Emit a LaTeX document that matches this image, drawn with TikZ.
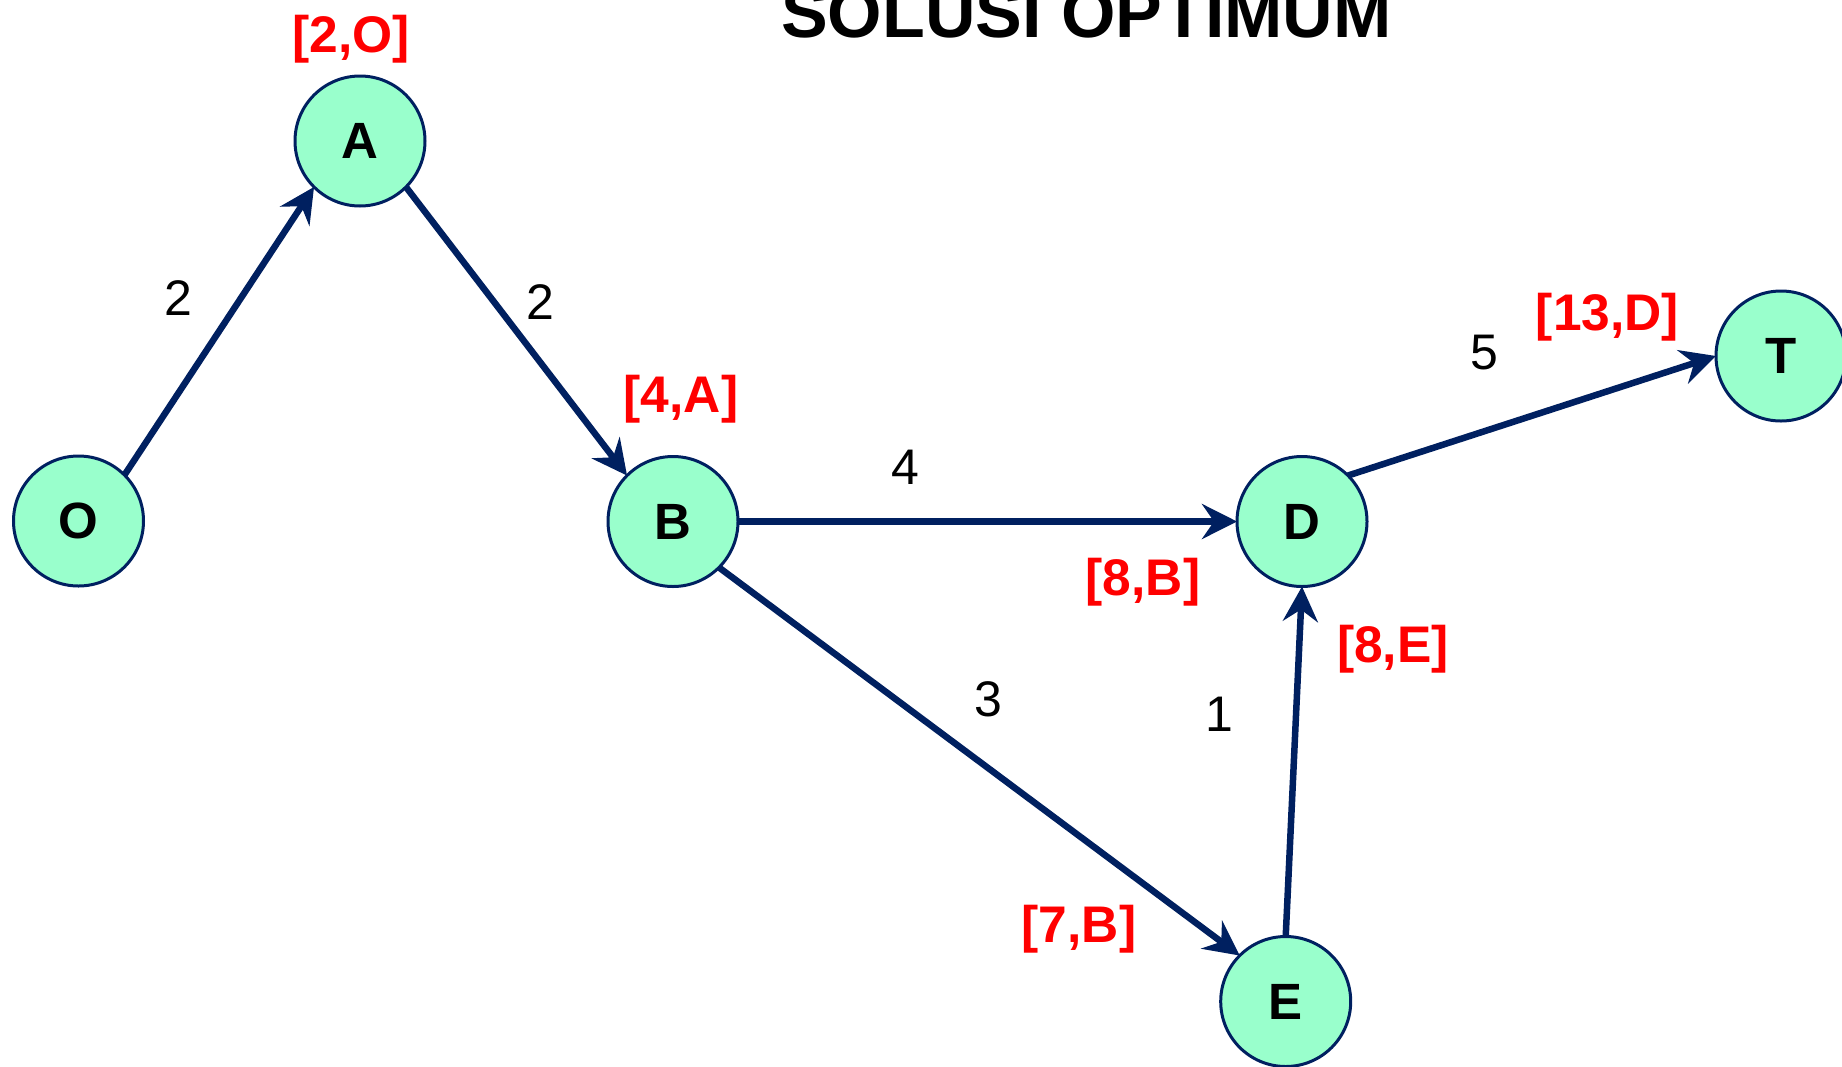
\documentclass[tikz,border=0pt]{standalone}
\usepackage{fontspec}
\setmainfont{Liberation Sans}
\usetikzlibrary{arrows.meta}
\definecolor{navy}{RGB}{0,32,96}
\definecolor{mint}{RGB}{153,255,204}
\definecolor{lblred}{RGB}{255,0,0}
\begin{document}
\begin{tikzpicture}[x=1pt,y=-1pt,
  vertex/.style={circle,draw=navy,fill=mint,line width=3pt,minimum size=130pt,inner sep=0pt,outer sep=0pt,font=\fontsize{51}{60}\selectfont\bfseries},
  cost/.style={text=lblred,font=\fontsize{51.5}{60}\selectfont\bfseries,anchor=base,inner sep=0pt},
  weight/.style={font=\fontsize{50}{60}\selectfont,anchor=base,inner sep=0pt},
  edge/.style={draw=navy,line width=6.5pt,-{Stealth[length=35pt,width=35pt,inset=12pt]}},
  titlestyle/.style={font=\fontsize{70}{84}\selectfont\bfseries,anchor=base,inner sep=0pt}
]
\path[use as bounding box,clip] (0,0) rectangle (1842,1066);
\fill[white] (0,0) rectangle (1842,1066);

\node[titlestyle] (title) at (1086.5,37) {SOLUSI OPTIMUM};

\node[vertex] (O) at (78.5,521) {O};
\node[vertex] (A) at (360,141) {A};
\node[vertex] (B) at (673,521.5) {B};
\node[vertex] (D) at (1302,521.5) {D};
\node[vertex] (E) at (1285.7,1001.5) {E};
\node[vertex] (T) at (1781,356) {T};

\draw[edge] (O.north east) -- (A.south west);
\draw[edge] (A.south east) -- (B.north west);
\draw[edge] (B.east) -- (D.west);
\draw[edge] (B.south east) -- (E.north west);
\draw[edge] (E.north) -- (D.south);
\draw[edge] (D.north east) -- (T.west);

\node[cost] (cA) at (351,52) {[2,O]};
\node[cost] (cB) at (681,412) {[4,A]};
\node[cost] (cDB) at (1143,595) {[8,B]};
\node[cost] (cDE) at (1393,662) {[8,E]};
\node[cost] (cE) at (1079,942) {[7,B]};
\node[cost] (cT) at (1607.5,330) {[13,D]};

\node[weight] (wOA) at (178,315) {2};
\node[weight] (wAB) at (540,319) {2};
\node[weight] (wBD) at (905,484) {4};
\node[weight] (wBE) at (988,716) {3};
\node[weight] (wED) at (1219,731) {1};
\node[weight] (wDT) at (1484,369) {5};
\end{tikzpicture}
\end{document}
